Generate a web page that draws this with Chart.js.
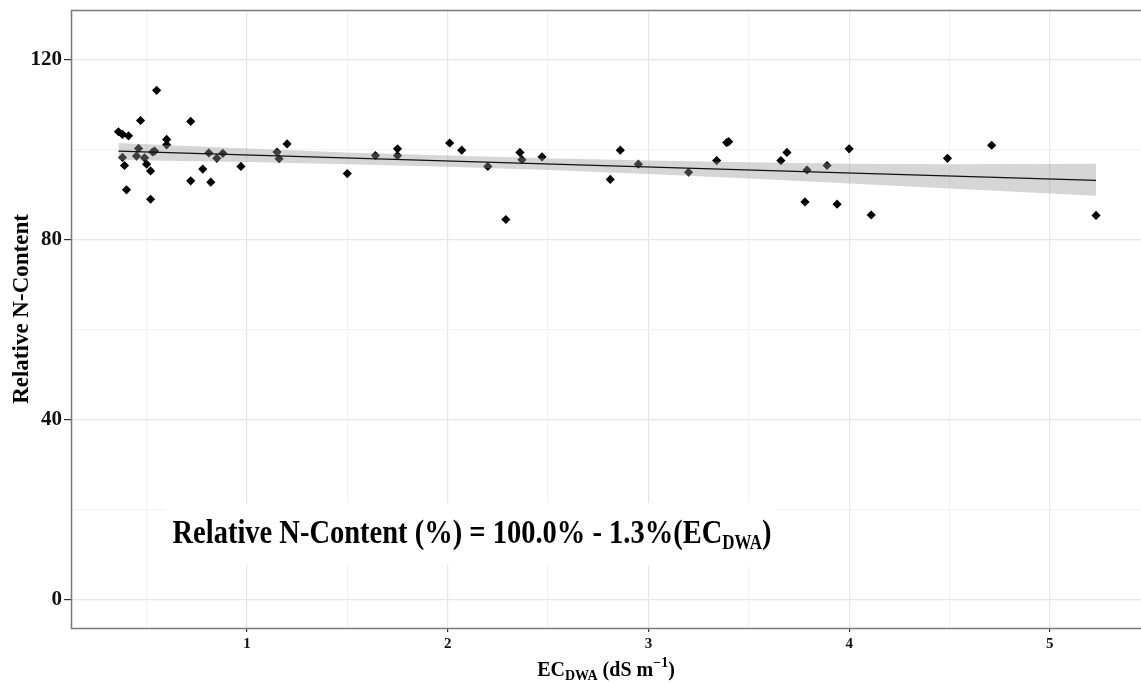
<!DOCTYPE html>
<html>
<head>
<meta charset="utf-8">
<script src="https://cdn.jsdelivr.net/npm/chart.js@4.4.1/dist/chart.umd.min.js"></script>
<style>
  html, body { margin: 0; padding: 0; background: #fff; overflow: hidden; }
  #wrap { position: relative; width: 1146px; height: 683px; }
</style>
</head>
<body>
<div id="wrap"><canvas id="chart"></canvas></div>
<script>
// values: EC_DWA (dS/m) vs relative N-content (%)
const ecValues = [0.36, 0.38, 0.41, 0.47, 0.55, 0.72, 0.60, 0.60, 0.46, 0.45,
                  0.49, 0.38, 0.53, 0.54, 0.39, 0.50, 0.52, 0.40, 0.52, 0.72,
                  0.78, 0.82, 0.81, 0.85, 0.88, 0.97, 1.20, 1.15, 1.16, 1.50,
                  1.64, 1.75, 1.75, 2.01, 2.07, 2.20, 2.29, 2.36, 2.37, 2.47,
                  2.81, 2.86, 2.95, 3.20, 3.34, 3.39, 3.40, 3.66, 3.69, 3.78,
                  3.79, 3.89, 3.94, 4.00, 4.11, 4.49, 4.71, 5.23];
const nContent = [103.9, 103.3, 103.0, 106.4, 113.1, 106.2, 102.2, 101.0, 100.2, 98.5,
                  98.1, 98.2, 99.4, 99.6, 96.4, 96.7, 95.2, 91.0, 88.9, 93.0,
                  95.6, 92.7, 99.2, 98.0, 99.1, 96.2, 101.2, 99.4, 97.9, 94.6,
                  98.6, 100.1, 98.6, 101.4, 99.8, 96.2, 84.4, 99.3, 97.7, 98.3,
                  93.3, 99.8, 96.7, 94.9, 97.5, 101.5, 101.7, 97.5, 99.3, 88.3,
                  95.4, 96.4, 87.8, 100.1, 85.4, 98.0, 100.9, 85.3];

// fitted line ends and confidence band
const fitX = [0.36, 5.23];
const fitY = [99.6, 93.1];
const bandX = [0.36, 1.0, 1.5, 2.0, 2.5, 3.0, 3.5, 4.0, 4.5, 5.23];
const bandUpper = [101.4, 100.2, 99.3, 98.6, 98.0, 97.5, 97.1, 96.8, 96.7, 96.8];
const bandLower = [97.6, 97.2, 96.7, 96.1, 95.4, 94.5, 93.5, 92.4, 91.3, 89.7];

const xMajorTicks = [1, 2, 3, 4, 5];
const xMinorTicks = [0.5, 1.5, 2.5, 3.5, 4.5];
const yMajorTicks = [0, 40, 80, 120];
const yMinorTicks = [20, 60, 100];

const SERIF = '"Liberation Serif", "Times New Roman", serif';

function isMajor(list, v) { return list.some(t => Math.abs(t - v) < 1e-6); }
function pairs(xs, ys) { return xs.map((x, i) => ({ x: x, y: ys[i] })); }

const extras = {
    id: 'extras',
    beforeDatasetsDraw(chart) {
        // white box behind the equation (covers the grid)
        const ctx = chart.ctx;
        ctx.save();
        ctx.fillStyle = '#fff';
        ctx.fillRect(165, 503, 612, 62);
        ctx.restore();
    },
    afterDraw(chart) {
        const ctx = chart.ctx;
        const a = chart.chartArea;
        ctx.save();

        // panel border
        ctx.strokeStyle = '#7a7a7a';
        ctx.lineWidth = 1.5;
        ctx.strokeRect(a.left + 0.5, a.top + 0.5, a.right - a.left + 5, a.bottom - a.top);

        ctx.fillStyle = '#000';

        // y title
        ctx.save();
        ctx.translate(22, 309);
        ctx.rotate(-Math.PI / 2);
        ctx.font = 'bold 23px ' + SERIF;
        ctx.textAlign = 'center';
        ctx.textBaseline = 'middle';
        ctx.fillText('Relative N-Content', 0, 0);
        ctx.restore();

        // x title: EC_DWA (dS m^-1)
        ctx.textBaseline = 'alphabetic';
        ctx.textAlign = 'left';
        const big = 'bold 20px ' + SERIF;
        const small = 'bold 14px ' + SERIF;
        const parts = [
            { t: 'EC', f: big, dy: 0 },
            { t: 'DWA', f: small, dy: 4 },
            { t: ' (dS m', f: big, dy: 0 },
            { t: '\u22121', f: small, dy: -9 },
            { t: ')', f: big, dy: 0 }
        ];
        let w = 0;
        parts.forEach(p => { ctx.font = p.f; w += ctx.measureText(p.t).width; });
        let x = 606 - w / 2;
        parts.forEach(p => {
            ctx.font = p.f;
            ctx.fillText(p.t, x, 676 + p.dy);
            x += ctx.measureText(p.t).width;
        });

        // equation
        ctx.save();
        ctx.translate(172.5, 543);
        ctx.scale(1, 1.18);
        let ex = 0;
        ctx.font = 'bold 28.5px ' + SERIF;
        const main = 'Relative N-Content (%) = 100.0% - 1.3%(EC';
        ctx.fillText(main, ex, 0);
        ex += ctx.measureText(main).width;
        ctx.font = 'bold 17px ' + SERIF;
        ctx.fillText('DWA', ex, 5);
        ex += ctx.measureText('DWA').width;
        ctx.font = 'bold 28.5px ' + SERIF;
        ctx.fillText(')', ex, 0);
        ctx.restore();

        ctx.restore();
    }
};

new Chart(document.getElementById('chart'), {
    type: 'scatter',
    data: {
        datasets: [
            {
                label: 'Relative N-Content',
                data: pairs(ecValues, nContent),
                pointStyle: 'rectRot',
                pointRadius: 4.6,
                pointBackgroundColor: '#000',
                pointBorderWidth: 0,
                order: 3
            },
            {
                type: 'line',
                label: 'upper',
                data: pairs(bandX, bandUpper),
                borderWidth: 0,
                pointRadius: 0,
                backgroundColor: 'rgba(153,153,153,0.4)',
                fill: '+1',
                order: 1
            },
            {
                type: 'line',
                label: 'lower',
                data: pairs(bandX, bandLower),
                borderWidth: 0,
                pointRadius: 0,
                fill: false,
                order: 2
            },
            {
                type: 'line',
                label: 'fit',
                data: pairs(fitX, fitY),
                borderColor: '#111',
                borderWidth: 1.2,
                pointRadius: 0,
                fill: false,
                order: 0
            }
        ]
    },
    options: {
        responsive: true,
        maintainAspectRatio: false,
        animation: false,
        layout: { padding: { top: 10, left: 0, right: 0, bottom: 0 } },
        plugins: { legend: { display: false }, tooltip: { enabled: false } },
        scales: {
            x: {
                type: 'linear',
                min: 0.1235,
                max: 5.456,
                afterBuildTicks: s => { s.ticks = [...xMinorTicks, ...xMajorTicks].sort((p, q) => p - q).map(v => ({ value: v })); },
                afterFit: s => { s.height = 55; s.paddingLeft = 0; s.paddingRight = 0; },
                border: { display: false },
                grid: {
                    color: c => isMajor(xMajorTicks, c.tick.value) ? '#e6e6e6' : '#f3f3f3',
                    lineWidth: 1.2,
                    tickLength: 4,
                    tickColor: c => isMajor(xMajorTicks, c.tick.value) ? '#333' : 'rgba(0,0,0,0)'
                },
                ticks: {
                    autoSkip: false,
                    maxRotation: 0,
                    padding: 3,
                    color: '#111',
                    font: { family: SERIF, size: 15, weight: 'bold' },
                    callback: v => isMajor(xMajorTicks, v) ? String(v) : ''
                }
            },
            y: {
                type: 'linear',
                min: -6.38,
                max: 130.96,
                afterBuildTicks: s => { s.ticks = [...yMinorTicks, ...yMajorTicks].sort((p, q) => p - q).map(v => ({ value: v })); },
                afterFit: s => { s.width = 71; s.paddingTop = 0; s.paddingBottom = 0; },
                border: { display: false },
                grid: {
                    color: c => isMajor(yMajorTicks, c.tick.value) ? '#e6e6e6' : '#f3f3f3',
                    lineWidth: 1.2,
                    tickLength: 7,
                    tickColor: c => isMajor(yMajorTicks, c.tick.value) ? '#333' : 'rgba(0,0,0,0)'
                },
                ticks: {
                    autoSkip: false,
                    padding: 2,
                    color: '#111',
                    font: { family: SERIF, size: 21, weight: 'bold' },
                    callback: v => isMajor(yMajorTicks, v) ? String(v) : ''
                }
            }
        }
    },
    plugins: [extras]
});
</script>
</body>
</html>
